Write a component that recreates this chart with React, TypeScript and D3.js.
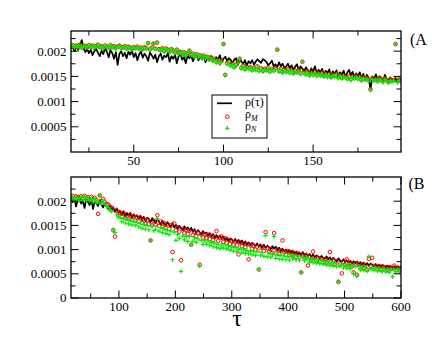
import React from 'react';
import * as d3 from 'd3';

// values are in units of 1e-5
const UNIT = 1e-5;

// Panel (A): tau = 15..199
const tauA = d3.range(15, 200);
const rhoA = [
  205,208,200,210,203,212,222,206,198,204,
  196,203,192,200,205,197,190,201,194,206,
  199,188,202,196,185,198,173,195,200,190,
  197,186,199,193,201,188,196,182,194,199,
  187,195,190,181,197,192,185,193,178,190,
  195,183,191,188,196,179,190,185,193,176,
  190,195,183,188,176,192,186,191,180,188,
  193,182,189,184,191,178,187,183,190,186,
  181,188,184,192,178,185,189,181,186,183,
  176,183,186,172,185,179,175,182,171,180,
  176,182,173,179,184,180,177,184,182,178,
  172,176,181,170,174,168,178,170,175,166,
  170,175,166,172,163,169,174,162,170,165,
  160,168,162,155,166,159,170,156,163,158,
  165,154,161,157,164,150,160,155,162,149,
  158,153,161,150,157,163,152,159,148,156,
  151,158,147,155,144,153,146,124,150,145,
  154,142,150,147,140,153,145,139,148,143,
  141,147,138,145,142,
];
const rhoMA = [
  210,212,208,211,209,213,207,211,210,208,
  212,209,211,207,210,213,208,210,206,211,
  209,207,212,208,210,206,209,211,207,208,
  210,205,209,207,204,208,206,209,205,207,
  204,208,206,216,203,207,215,205,217,204,
  202,206,200,205,203,199,204,201,197,203,
  196,199,194,198,192,196,201,193,195,190,
  194,189,192,187,191,186,189,184,188,182,
  185,179,183,177,181,214,153,176,179,172,
  175,169,173,178,185,167,171,165,169,166,
  168,163,167,164,170,162,166,161,165,163,
  167,160,164,162,166,203,161,165,159,163,
  160,164,158,162,157,161,159,163,156,179,
  158,155,160,153,157,154,159,152,156,153,
  157,151,155,150,154,149,153,151,156,148,
  152,147,151,149,146,150,144,149,147,151,
  146,149,143,148,145,147,142,124,146,143,
  145,141,147,143,140,146,142,139,144,141,
  143,214,140,144,141,
];
const rhoNA = [
  209,211,207,210,208,212,206,210,209,207,
  211,208,210,206,209,212,207,209,205,210,
  208,206,211,207,209,205,208,210,206,207,
  209,204,208,206,203,207,205,208,204,206,
  203,207,205,216,202,206,215,204,216,203,
  201,205,199,204,202,198,203,200,196,202,
  195,198,193,197,191,195,200,192,194,189,
  193,188,191,186,190,185,188,183,187,181,
  183,177,181,175,179,214,152,174,177,170,
  173,167,171,176,184,165,169,163,167,164,
  166,161,165,162,168,160,164,159,163,161,
  165,158,162,160,164,203,159,163,157,161,
  158,162,156,160,155,159,157,161,154,179,
  156,153,158,151,155,152,157,150,154,151,
  155,149,153,148,152,147,151,149,154,146,
  150,145,149,147,144,148,142,147,145,149,
  144,147,141,146,143,145,140,123,144,141,
  143,139,145,141,138,144,140,137,142,139,
  141,214,138,142,139,
];

// Panel (B): tau = 15..600 step 3
const tauB = d3.range(15, 601, 3);
const rhoB = [
  208,198,205,189,203,210,195,201,186,204,
  199,192,205,184,200,196,190,202,193,187,
  196,189,184,192,181,187,178,185,176,180,
  172,179,168,175,170,176,165,173,168,171,
  164,170,161,168,159,166,163,157,165,160,
  155,162,158,151,160,154,149,157,152,147,
  155,146,151,143,149,145,140,148,142,146,
  139,145,137,142,134,140,136,131,138,133,
  135,129,134,127,132,125,130,124,129,122,
  127,120,125,118,123,121,116,122,115,120,
  113,119,112,117,110,115,109,114,111,107,
  113,106,111,104,110,103,108,105,101,107,
  102,106,99,104,97,102,96,100,95,99,
  93,98,92,96,90,94,89,95,88,92,
  87,91,85,90,84,88,86,82,87,83,
  81,86,80,84,78,83,79,76,82,77,
  75,80,74,78,73,77,71,76,72,75,
  70,74,69,73,68,72,67,71,69,66,
  70,65,69,64,68,66,63,67,64,66,
  62,66,61,65,63,64,
];
const rhoMB = [
  207,211,205,210,208,204,210,206,211,205,
  208,204,209,203,207,202,174,212,200,205,
  198,194,193,188,187,140,127,181,175,176,
  168,176,165,173,163,171,161,169,160,167,
  158,166,155,163,153,161,152,119,150,159,
  152,171,149,158,147,155,145,153,143,150,
  95,154,140,146,137,78,143,134,141,132,
  139,110,130,137,128,134,69,131,125,132,
  124,131,122,128,120,126,138,118,125,127,
  116,123,114,120,112,118,110,117,109,90,
  115,107,113,105,111,80,109,102,108,100,
  106,59,98,105,97,136,103,95,101,93,
  134,92,100,91,98,119,95,89,97,88,
  95,87,93,85,92,84,53,90,82,88,
  67,86,79,96,84,77,83,75,81,74,
  80,73,79,95,71,78,70,76,33,69,
  51,75,68,80,67,73,65,53,71,48,
  70,63,69,62,68,58,81,66,83,64,
  67,60,66,59,65,61,64,58,63,60,
  61,67,57,63,59,62,
];
const rhoNB = [
  205,208,202,207,206,201,208,203,209,202,
  206,201,205,199,204,198,199,212,196,201,
  194,189,187,181,179,141,135,172,167,166,
  158,165,155,163,153,161,151,159,150,156,
  147,155,144,152,142,150,141,119,148,139,
  142,164,138,146,135,143,133,140,131,138,
  79,136,119,131,123,55,128,120,127,117,
  127,110,117,124,115,122,66,119,111,118,
  111,118,109,115,106,113,104,111,102,109,
  103,110,101,107,99,105,97,104,96,101,
  102,94,100,92,98,91,97,89,96,88,
  95,60,88,94,86,129,85,92,84,90,
  127,82,90,81,88,80,87,79,86,78,
  89,81,87,79,86,78,53,84,77,83,
  81,74,80,73,79,72,78,71,77,70,
  75,68,74,67,73,66,72,65,34,66,
  69,62,68,61,67,60,66,50,65,45,
  65,58,64,57,63,56,86,60,62,57,
  62,56,61,55,55,60,54,59,53,58,
  44,58,55,59,54,57,
];

const xTicksA = [50, 100, 150];
const xMinorA = [25, 75, 125, 175];
const xTicksB = [100, 200, 300, 400, 500, 600];
const xMinorB = [50, 150, 250, 350, 450, 550];
const yTicksA = [0.0005, 0.001, 0.0015, 0.002];
const yTicksB = [0, 0.0005, 0.001, 0.0015, 0.002];
const yMinor = [0.00025, 0.00075, 0.00125, 0.00175, 0.00225];
const yLabelText: Record<string, string> = {
  '0': '0', '0.0005': '0.0005', '0.001': '0.001', '0.0015': '0.0015', '0.002': '0.002',
};

const FONT = '"Liberation Serif", "Times New Roman", Times, serif';
const RED = '#ff0000';
const GREEN = '#00ee00';

type PanelProps = {
  id: string;
  left: number; right: number; top: number; bottom: number;
  xDomain: [number, number]; yDomain: [number, number];
  xTicks: number[]; xMinor: number[]; yTicks: number[];
  tau: number[]; rho: number[]; rhoM: number[]; rhoN: number[];
  children?: React.ReactNode;
};

function Panel(p: PanelProps) {
  const x = d3.scaleLinear().domain(p.xDomain).range([p.left, p.right]);
  const y = d3.scaleLinear().domain(p.yDomain).range([p.bottom, p.top]);
  const n = Math.min(p.tau.length, p.rho.length);
  const line = d3.line<number>()
    .x((_, i) => x(p.tau[i]))
    .y((d) => y(d * UNIT));
  const majorLen = 7.5, minorLen = 4.5;
  const inX = (v: number) => v >= p.xDomain[0] && v <= p.xDomain[1];
  const inY = (v: number) => v >= p.yDomain[0] && v <= p.yDomain[1];
  let plus = '';
  p.rhoN.forEach((d, i) => {
    if (i >= p.tau.length) return;
    const cx = x(p.tau[i]), cy = y(d * UNIT);
    plus += `M${cx - 2.2},${cy}h4.4M${cx},${cy - 2.2}v4.4`;
  });
  const ticks: React.ReactNode[] = [];
  p.xTicks.filter(inX).forEach((t) => {
    const px = x(t);
    ticks.push(<line key={'xb' + t} x1={px} x2={px} y1={p.bottom} y2={p.bottom - majorLen} />);
    ticks.push(<line key={'xt' + t} x1={px} x2={px} y1={p.top} y2={p.top + majorLen} />);
  });
  p.xMinor.filter(inX).forEach((t) => {
    const px = x(t);
    ticks.push(<line key={'xmb' + t} x1={px} x2={px} y1={p.bottom} y2={p.bottom - minorLen} />);
    ticks.push(<line key={'xmt' + t} x1={px} x2={px} y1={p.top} y2={p.top + minorLen} />);
  });
  p.yTicks.filter(inY).forEach((t) => {
    const py = y(t);
    ticks.push(<line key={'yl' + t} x1={p.left} x2={p.left + majorLen} y1={py} y2={py} />);
    ticks.push(<line key={'yr' + t} x1={p.right} x2={p.right - majorLen} y1={py} y2={py} />);
  });
  yMinor.filter(inY).forEach((t) => {
    const py = y(t);
    ticks.push(<line key={'yml' + t} x1={p.left} x2={p.left + minorLen} y1={py} y2={py} />);
    ticks.push(<line key={'ymr' + t} x1={p.right} x2={p.right - minorLen} y1={py} y2={py} />);
  });
  return (
    <g>
      <defs>
        <clipPath id={'clip' + p.id}>
          <rect x={p.left} y={p.top} width={p.right - p.left} height={p.bottom - p.top} />
        </clipPath>
      </defs>
      <g clipPath={`url(#clip${p.id})`}>
        <path d={line(p.rho.slice(0, n)) || ''} fill="none" stroke="#000" strokeWidth={1.7} strokeLinejoin="round" />
        {p.rhoM.map((d, i) => i < p.tau.length ? (
          <circle key={i} cx={x(p.tau[i])} cy={y(d * UNIT)} r={1.8} fill="none" stroke={RED} strokeWidth={1} />
        ) : null)}
        <path d={plus} fill="none" stroke={GREEN} strokeWidth={1.2} />
      </g>
      <rect x={p.left} y={p.top} width={p.right - p.left} height={p.bottom - p.top} fill="none" stroke="#000" strokeWidth={1.3} />
      <g stroke="#000" strokeWidth={1}>{ticks}</g>
      <g style={{ fontFamily: FONT }} fontSize={13} fill="#000">
        {p.xTicks.filter(inX).map((t) => (
          <text key={'xl' + t} x={x(t)} y={p.bottom + 13} textAnchor="middle">{t}</text>
        ))}
        {p.yTicks.filter(inY).map((t) => (
          <text key={'yl' + t} x={p.left - 4.5} y={y(t)} dy="0.34em" textAnchor="end">{yLabelText[String(t)]}</text>
        ))}
      </g>
      {p.children}
    </g>
  );
}

export default function App() {
  return (
    <svg width={432} height={354} viewBox="0 0 432 354"
      style={{ position: 'absolute', left: 0, top: 0, background: '#fff' }}>
      <rect x={0} y={0} width={432} height={354} fill="#fff" />
      <Panel id="A" left={71} right={401} top={31} bottom={152}
        xDomain={[15, 199]} yDomain={[0, 0.0024]}
        xTicks={xTicksA} xMinor={xMinorA} yTicks={yTicksA}
        tau={tauA} rho={rhoA} rhoM={rhoMA} rhoN={rhoNA}>
        <g>
          <rect x={212} y={95} width={55} height={43} fill="#fff" stroke="#000" strokeWidth={1} />
          <line x1={217} x2={232} y1={103.3} y2={103.3} stroke="#000" strokeWidth={1.7} />
          <circle cx={227.3} cy={116.7} r={1.8} fill="none" stroke={RED} strokeWidth={1} />
          <path d={`M${227.3 - 2.2},128.3h4.4M227.3,${128.3 - 2.2}v4.4`} stroke={GREEN} strokeWidth={1.2} fill="none" />
          <g style={{ fontFamily: FONT }} fontSize={12} fill="#000">
            <text x={245} y={106}>ρ(τ)</text>
            <text x={245} y={118}>ρ<tspan fontSize={8} fontStyle="italic" dy={2.5}>M</tspan></text>
            <text x={245} y={129.5}>ρ<tspan fontSize={8} fontStyle="italic" dy={2.5}>N</tspan></text>
          </g>
        </g>
      </Panel>
      <Panel id="B" left={71} right={401} top={177} bottom={298}
        xDomain={[15, 600]} yDomain={[0, 0.0025]}
        xTicks={xTicksB} xMinor={xMinorB} yTicks={yTicksB}
        tau={tauB} rho={rhoB} rhoM={rhoMB} rhoN={rhoNB} />
      <text x={410} y={44.5} style={{ fontFamily: FONT }} fontSize={16}>(A</text>
      <text x={408.5} y={189} style={{ fontFamily: FONT }} fontSize={16}>(B</text>
      <text x={237} y={325.5} style={{ fontFamily: FONT }} fontSize={24} textAnchor="middle">τ</text>
    </svg>
  );
}
